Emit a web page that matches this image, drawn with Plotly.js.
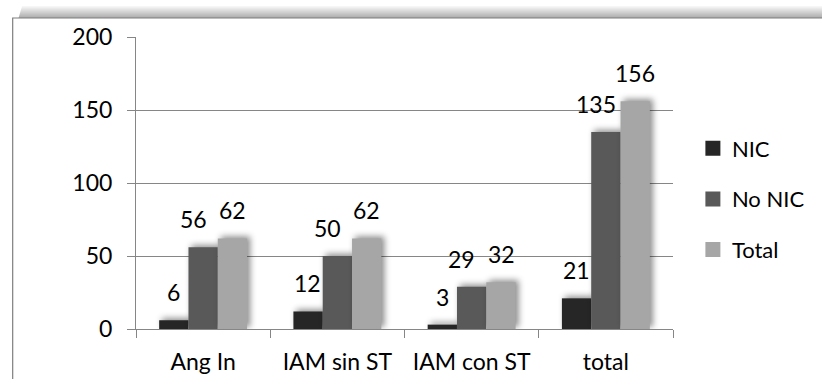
<!DOCTYPE html>
<html>
<head>
<meta charset="utf-8">
<script src="https://cdn.plot.ly/plotly-3.0.1.min.js"></script>
<style>
  html, body { margin: 0; padding: 0; background: #fff; }
  #chart { width: 822px; height: 379px; }
  #chart .bars .point path { filter: drop-shadow(3px -2px 3px rgba(0,0,0,0.45)); }
  #chart .legend .legendpoints path { transform: translate(21px, 0) scale(1.25); }
</style>
</head>
<body>
<div id="chart"></div>
<script>
const categories = ["Ang In", "IAM sin ST", "IAM con ST", "total"];
const seriesNames = ["NIC", "No NIC", "Total"];
const nicValues = [6, 12, 3, 21];
const noNicValues = [56, 50, 29, 135];
const totalValues = [62, 62, 32, 156];
const yTicks = [0, 50, 100, 150, 200];

const colors = ["#262626", "#595959", "#a6a6a6"];
const seriesValues = [nicValues, noNicValues, totalValues];
const FONT = "Lato, 'Open Sans', sans-serif";
const BARGAP = 0.345;

const traces = seriesValues.map((vals, i) => ({
  type: "bar",
  name: seriesNames[i],
  legendgroup: "g" + i,
  x: categories,
  y: vals,
  marker: { color: colors[i], line: { width: 0 } },
  hoverinfo: "skip"
}));

// plot area in pixels
const L = 136, R = 676, T = 37, B = 329;
const px = v => (v - L) / (R - L);
const py = v => (B - v) / (B - T);

// data labels, anchored on each bar through the axes
const barW = (R - L) / categories.length * (1 - BARGAP) / seriesValues.length;
const labelShift = [0, -10, 0];
const annotations = [];
seriesValues.forEach((vals, i) => {
  vals.forEach((v, j) => {
    annotations.push({
      x: categories[j], y: v, xref: "x", yref: "y",
      text: String(v), showarrow: false,
      xanchor: "center", yanchor: "bottom",
      xshift: (i - (seriesValues.length - 1) / 2) * barW + labelShift[i],
      yshift: 12,
      font: { family: FONT, size: 23, color: "#000" }
    });
  });
});

// frame & top shadow
const shapes = [];
for (let k = 0; k < 12; k++) {
  shapes.push({
    type: "rect", xref: "paper", yref: "paper", layer: "below",
    x0: px(18 + k * 0.3), x1: px(830),
    y0: py(18 - k), y1: py(17 - k),
    fillcolor: "rgba(0,0,0," + (0.32 - k * 0.026).toFixed(3) + ")",
    line: { width: 0 }
  });
}
shapes.push({
  type: "path", xref: "paper", yref: "paper",
  path: `M ${px(12)} ${py(390)} L ${px(12)} ${py(18)} L ${px(830)} ${py(18)}`,
  line: { color: "#7f7f7f", width: 1.2 }
});
shapes.push({
  type: "rect", xref: "paper", yref: "paper", layer: "below",
  x0: px(12.6), x1: px(830), y0: py(390), y1: py(18.6),
  fillcolor: "#fff", line: { width: 0 }
});

const layout = {
  width: 822, height: 379,
  margin: { l: L, r: 822 - R, t: T, b: 379 - B, pad: 0 },
  paper_bgcolor: "#fff", plot_bgcolor: "rgba(0,0,0,0)",
  barmode: "group", bargap: BARGAP, bargroupgap: 0,
  font: { family: FONT, size: 23, color: "#000" },
  showlegend: true,
  legend: {
    x: px(695), xanchor: "left", y: py(199), yanchor: "middle",
    font: { family: FONT, size: 22, color: "#000" },
    traceorder: "grouped", tracegroupgap: 19,
    itemsizing: "constant", bgcolor: "rgba(0,0,0,0)"
  },
  xaxis: {
    type: "category", showgrid: false, zeroline: false,
    showline: true, linecolor: "#868686", linewidth: 1,
    ticks: "outside", tickson: "boundaries", ticklen: 8, tickcolor: "#868686",
    tickfont: { family: FONT, size: 23 }, ticklabelstandoff: 12
  },
  yaxis: {
    range: [0, 200], tickvals: yTicks, ticktext: yTicks.map(String),
    showgrid: true, gridcolor: "#868686", gridwidth: 1,
    zeroline: false, showline: true, linecolor: "#868686", linewidth: 1,
    ticks: "outside", ticklen: 8, tickcolor: "#868686",
    tickfont: { family: FONT, size: 23 }, ticklabelstandoff: 10
  },
  annotations: annotations,
  shapes: shapes
};

Plotly.newPlot("chart", traces, layout, { staticPlot: true, displayModeBar: false });
</script>
</body>
</html>
